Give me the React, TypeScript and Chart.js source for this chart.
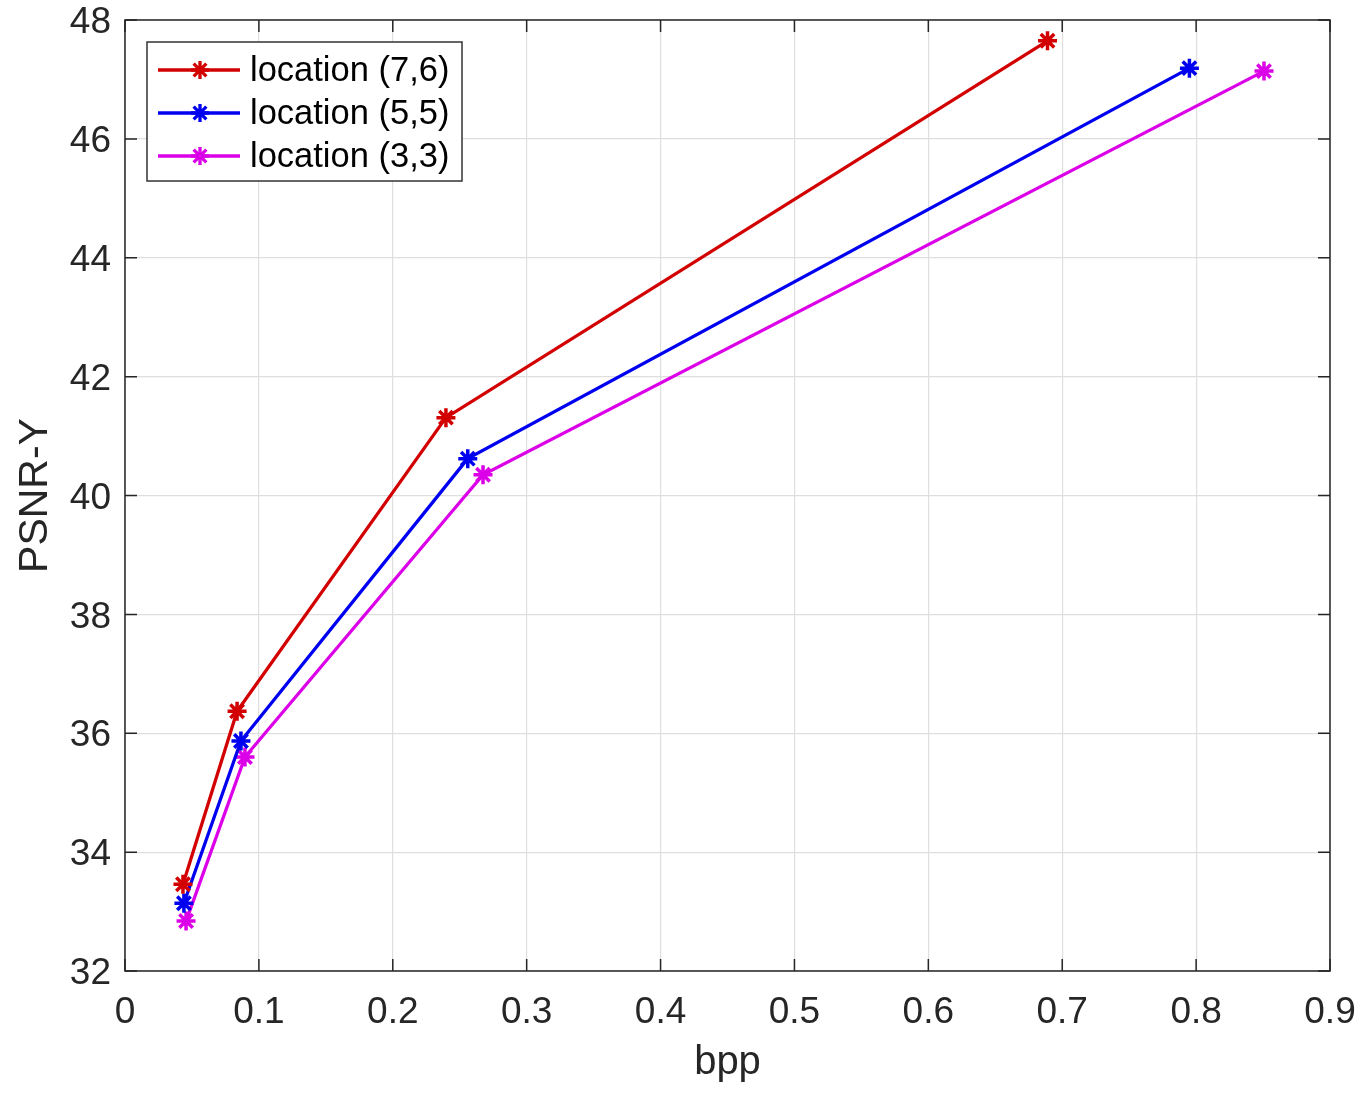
import { useEffect, useRef } from "react";
import { Chart, registerables } from "chart.js";

Chart.register(...registerables);

const seriesLabels = ["location (7,6)", "location (5,5)", "location (3,3)"];
const seriesColors = ["#d20000", "#0000f0", "#dc00e8"];

const bpp76 = [0.0433, 0.0837, 0.2397, 0.689];
const psnr76 = [33.46, 36.37, 41.31, 47.65];
const bpp55 = [0.044, 0.0866, 0.256, 0.795];
const psnr55 = [33.14, 35.87, 40.62, 47.19];
const bpp33 = [0.0456, 0.0896, 0.2674, 0.8507];
const psnr33 = [32.84, 35.6, 40.35, 47.14];

const xTicks = [0, 0.1, 0.2, 0.3, 0.4, 0.5, 0.6, 0.7, 0.8, 0.9];
const yTicks = [32, 34, 36, 38, 40, 42, 44, 46, 48];

const FONT = "'Liberation Sans', Arial, Helvetica, sans-serif";
const AXIS_COLOR = "#262626";

const toPoints = (xs: number[], ys: number[]) => xs.map((x, i) => ({ x, y: ys[i] }));

// box, inner tick marks and legend drawn like the MATLAB figure
const matlabFrame = {
  id: "matlabFrame",
  afterDatasetsDraw(chart: Chart) {
    const { ctx, chartArea } = chart;
    const { left, right, top, bottom } = chartArea;
    const xs = chart.scales.x;
    const ys = chart.scales.y;
    ctx.save();
    ctx.strokeStyle = AXIS_COLOR;
    ctx.lineWidth = 1.5;
    ctx.strokeRect(left, top, right - left, bottom - top);
    const tl = 12;
    ctx.beginPath();
    xTicks.forEach((v) => {
      const px = xs.getPixelForValue(v);
      ctx.moveTo(px, bottom);
      ctx.lineTo(px, bottom - tl);
      ctx.moveTo(px, top);
      ctx.lineTo(px, top + tl);
    });
    yTicks.forEach((v) => {
      const py = ys.getPixelForValue(v);
      ctx.moveTo(left, py);
      ctx.lineTo(left + tl, py);
      ctx.moveTo(right, py);
      ctx.lineTo(right - tl, py);
    });
    ctx.stroke();

    // legend
    const bx = left + 22;
    const by = top + 22;
    const bw = 315;
    const bh = 139;
    ctx.fillStyle = "#ffffff";
    ctx.fillRect(bx, by, bw, bh);
    ctx.strokeStyle = "#333333";
    ctx.lineWidth = 1.5;
    ctx.strokeRect(bx, by, bw, bh);
    ctx.font = `34.5px ${FONT}`;
    ctx.textBaseline = "middle";
    chart.data.datasets.forEach((ds: any, i: number) => {
      const ry = by + 28 + i * 43;
      ctx.strokeStyle = ds.borderColor;
      ctx.lineWidth = 3.3;
      ctx.beginPath();
      ctx.moveTo(bx + 11, ry);
      ctx.lineTo(bx + 93, ry);
      ctx.stroke();
      ctx.lineWidth = 3.3;
      ctx.beginPath();
      const r = 9;
      for (let k = 0; k < 4; k++) {
        const a = (k * Math.PI) / 4;
        ctx.moveTo(bx + 53 - r * Math.cos(a), ry - r * Math.sin(a));
        ctx.lineTo(bx + 53 + r * Math.cos(a), ry + r * Math.sin(a));
      }
      ctx.stroke();
      ctx.fillStyle = "#000000";
      ctx.textAlign = "left";
      ctx.fillText(ds.label, bx + 103, ry + 1);
    });
    ctx.restore();
  },
};

export default function App() {
  const chartRef = useRef<HTMLCanvasElement>(null);
  const chartInstance = useRef<Chart | null>(null);

  useEffect(() => {
    document.body.style.margin = "0";
    if (!chartRef.current) return;
    if (chartInstance.current) {
      chartInstance.current.destroy();
    }
    const ctx = chartRef.current.getContext("2d");
    if (!ctx) return;

    const data = [toPoints(bpp76, psnr76), toPoints(bpp55, psnr55), toPoints(bpp33, psnr33)];

    chartInstance.current = new Chart(ctx, {
      type: "line",
      data: {
        datasets: data.map((d, i) => ({
          label: seriesLabels[i],
          data: d,
          borderColor: seriesColors[i],
          backgroundColor: seriesColors[i],
          borderWidth: 3.3,
          pointStyle: "star",
          pointRadius: 9.5,
          pointBorderWidth: 3.5,
          pointHoverRadius: 9.5,
          tension: 0,
          fill: false,
        })),
      },
      options: {
        responsive: true,
        maintainAspectRatio: false,
        animation: false,
        layout: { padding: { left: 0, top: 20, right: 33, bottom: 0 } },
        plugins: {
          legend: { display: false },
          tooltip: { enabled: false },
        },
        scales: {
          x: {
            type: "linear",
            min: 0,
            max: 0.9,
            afterFit: (s: any) => {
              s.height = 126;
              s.paddingLeft = 0;
              s.paddingRight = 0;
            },
            afterBuildTicks: (s: any) => {
              s.ticks = xTicks.map((v) => ({ value: v }));
            },
            grid: { color: "#dedede", lineWidth: 1.2, drawTicks: false },
            border: { display: false },
            ticks: {
              padding: 20,
              color: AXIS_COLOR,
              font: { family: FONT, size: 37 },
              maxRotation: 0,
              callback: (v: any) => String(Number(Number(v).toFixed(1))),
            },
            title: {
              display: true,
              text: "bpp",
              color: AXIS_COLOR,
              font: { family: FONT, size: 40 },
              padding: { top: 0, bottom: 10 },
            },
          },
          y: {
            type: "linear",
            min: 32,
            max: 48,
            afterFit: (s: any) => {
              s.width = 125;
              s.paddingTop = 0;
              s.paddingBottom = 0;
            },
            afterBuildTicks: (s: any) => {
              s.ticks = yTicks.map((v) => ({ value: v }));
            },
            grid: { color: "#dedede", lineWidth: 1.2, drawTicks: false },
            border: { display: false },
            ticks: {
              padding: 14,
              labelOffset: 3,
              color: AXIS_COLOR,
              font: { family: FONT, size: 37 },
              callback: (v: any) => String(v),
            },
            title: {
              display: true,
              text: "PSNR-Y",
              color: AXIS_COLOR,
              font: { family: FONT, size: 41 },
              padding: { top: 11, bottom: 0 },
            },
          },
        },
      },
      plugins: [matlabFrame],
    });

    return () => {
      if (chartInstance.current) {
        chartInstance.current.destroy();
        chartInstance.current = null;
      }
    };
  }, []);

  return (
    <div style={{ width: "1363px", height: "1097px", background: "#ffffff" }}>
      <canvas ref={chartRef} />
    </div>
  );
}
